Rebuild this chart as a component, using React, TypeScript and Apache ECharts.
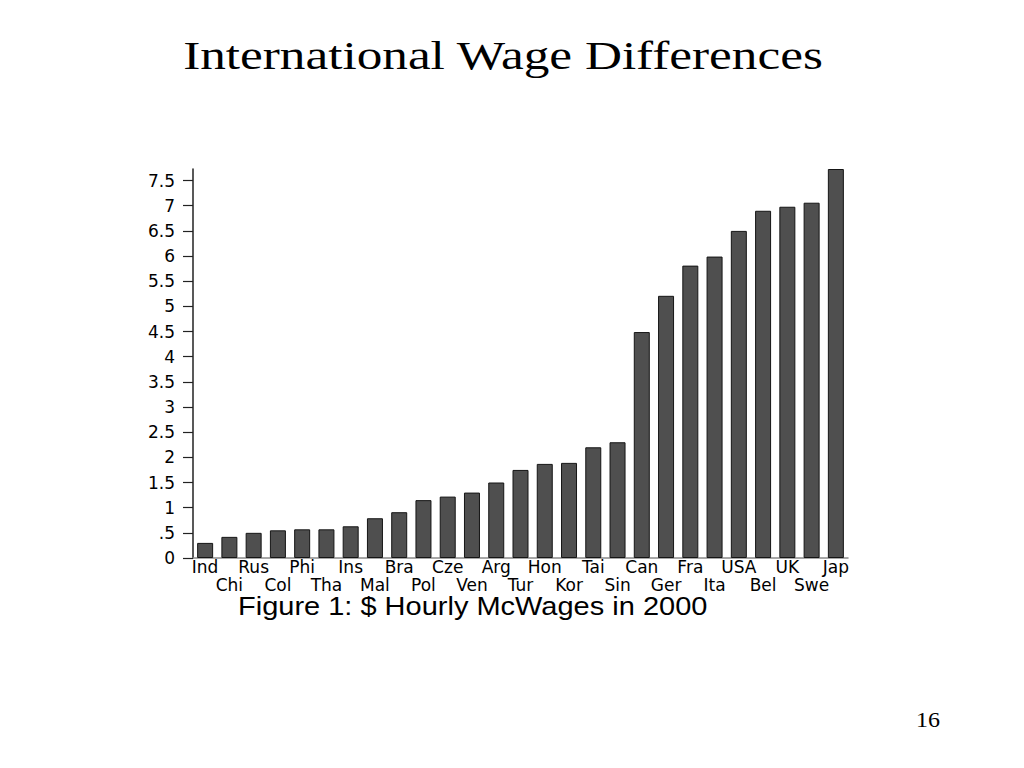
import React, { useEffect, useRef } from "react";
import * as echarts from "echarts";

const countries = [
  "Ind", "Chi", "Rus", "Col", "Phi", "Tha", "Ins", "Mal", "Bra", "Pol",
  "Cze", "Ven", "Arg", "Tur", "Hon", "Kor", "Tai", "Sin", "Can", "Ger",
  "Fra", "Ita", "USA", "Bel", "UK", "Swe", "Jap",
];
const wages = [
  0.3, 0.42, 0.5, 0.55, 0.57, 0.57, 0.63, 0.79, 0.91, 1.15,
  1.22, 1.3, 1.5, 1.75, 1.87, 1.89, 2.2, 2.3, 4.49, 5.21,
  5.81, 5.99, 6.5, 6.9, 6.98, 7.06, 7.73,
];
const yTicks = [0, 0.5, 1, 1.5, 2, 2.5, 3, 3.5, 4, 4.5, 5, 5.5, 6, 6.5, 7, 7.5];

const titleText = "International Wage Differences";
const captionText = "Figure 1: $ Hourly McWages in 2000";
const pageNumber = "16";

function fmtY(v: number): string {
  if (v === 0) return "0";
  if (v < 1) return String(v).replace(/^0/, "");
  return String(v);
}

export default function App() {
  const ref = useRef<HTMLDivElement>(null);
  useEffect(() => {
    if (!ref.current) return;
    const chart = echarts.init(ref.current, null, { renderer: "svg" });
    chart.setOption({
      animation: false,
      backgroundColor: "#ffffff",
      graphic: [
        {
          type: "text",
          x: 503,
          y: 55,
          scaleX: 1.25,
          style: {
            text: titleText,
            x: 0,
            y: 0,
            align: "center",
            verticalAlign: "middle",
            font: "normal 41px 'Liberation Serif'",
            fill: "#000",
          },
        },
        {
          type: "text",
          x: 238,
          y: 606,
          scaleX: 1.16,
          style: {
            text: captionText,
            x: 0,
            y: 0,
            align: "left",
            verticalAlign: "middle",
            font: "normal 25px 'Liberation Sans'",
            fill: "#000",
          },
        },
        {
          type: "text",
          x: 916,
          y: 720,
          scaleX: 1.2,
          style: {
            text: pageNumber,
            x: 0,
            y: 0,
            align: "left",
            verticalAlign: "middle",
            font: "normal 20px 'Liberation Serif'",
            fill: "#000",
          },
        },
      ],
      grid: { left: 193, right: 176, top: 169, bottom: 210, containLabel: false },
      xAxis: {
        type: "category",
        data: countries,
        axisLine: { lineStyle: { color: "#8a8a8a", width: 1.5 } },
        axisTick: { show: false },
        axisLabel: {
          interval: 0,
          margin: 0,
          fontFamily: "DejaVu Sans",
          fontSize: 17,
          color: "#000",
          lineHeight: 18,
          formatter: (v: string, i: number) => (i % 2 === 1 ? "\n" + v : v),
        },
      },
      yAxis: {
        type: "value",
        min: 0,
        max: 7.73,
        interval: 0.5,
        splitLine: { show: false },
        axisLine: { show: true, lineStyle: { color: "#222", width: 1.5 } },
        axisTick: {
          show: true,
          length: 10,
          customValues: yTicks,
          lineStyle: { color: "#222", width: 1.2 },
        },
        axisLabel: {
          customValues: yTicks,
          margin: 18,
          fontFamily: "DejaVu Sans",
          fontSize: 17,
          color: "#000",
          formatter: (v: number) => fmtY(v),
        },
      },
      series: [
        {
          type: "bar",
          data: wages,
          barWidth: 16,
          itemStyle: { color: "#4f4f4f", borderColor: "#151515", borderWidth: 1 },
        },
      ],
    });
    return () => chart.dispose();
  }, []);
  return (
    <div
      ref={ref}
      style={{ position: "fixed", left: 0, top: 0, width: 1024, height: 768 }}
    />
  );
}
